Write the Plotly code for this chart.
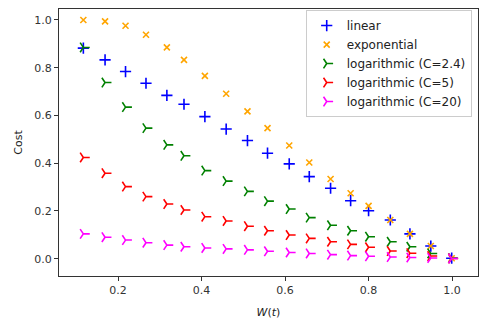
"""Cost curves for different weighting schemes."""

import plotly.graph_objects as go

# W(t) positions shared by all series
w_t = [0.117, 0.169, 0.218, 0.267, 0.317, 0.358, 0.408, 0.459, 0.510, 0.558,
       0.610, 0.658, 0.709, 0.757, 0.800, 0.852, 0.899, 0.949, 0.999]

cost_linear = [0.882, 0.833, 0.784, 0.735, 0.684, 0.647, 0.595, 0.543, 0.495, 0.442,
               0.397, 0.344, 0.295, 0.243, 0.201, 0.162, 0.104, 0.053, 0.002]
cost_exponential = [1.0, 0.994, 0.976, 0.938, 0.885, 0.833, 0.766, 0.691, 0.617, 0.547,
                    0.474, 0.403, 0.334, 0.274, 0.221, 0.162, 0.104, 0.053, 0.002]
cost_log_2_4 = [0.885, 0.738, 0.635, 0.547, 0.477, 0.431, 0.369, 0.325, 0.282, 0.241,
                0.208, 0.172, 0.140, 0.117, 0.092, 0.071, 0.050, 0.022, 0.002]
cost_log_5 = [0.424, 0.358, 0.302, 0.260, 0.229, 0.204, 0.176, 0.158, 0.136, 0.117,
              0.099, 0.085, 0.071, 0.060, 0.048, 0.032, 0.023, 0.011, 0.001]
cost_log_20 = [0.104, 0.090, 0.078, 0.067, 0.057, 0.050, 0.045, 0.041, 0.037, 0.031,
               0.026, 0.022, 0.017, 0.013, 0.010, 0.007, 0.005, 0.003, 0.001]

x_ticks = [0.2, 0.4, 0.6, 0.8, 1.0]
y_ticks = [0.0, 0.2, 0.4, 0.6, 0.8, 1.0]

SERIES = [
    ("linear", cost_linear, "blue", "cross-thin", 8),
    ("exponential", cost_exponential, "orange", "x-thin", 6),
    ("logarithmic (C=2.4)", cost_log_2_4, "green", "y-right", 8),
    ("logarithmic (C=5)", cost_log_5, "red", "y-right", 8),
    ("logarithmic (C=20)", cost_log_20, "magenta", "y-right", 8),
]

fig = go.Figure()
for name, values, color, symbol, size in SERIES:
    fig.add_trace(
        go.Scatter(
            x=w_t,
            y=values,
            mode="markers",
            name=name,
            marker={"symbol": symbol, "size": size, "color": color,
                    "line": {"color": color, "width": 1.6}},
        )
    )

axis_style = dict(
    showline=True,
    linecolor="#333333",
    linewidth=1,
    mirror=True,
    ticks="outside",
    ticklen=4,
    tickcolor="#333333",
    showgrid=False,
    zeroline=False,
    tickfont={"size": 11, "color": "#333333"},
)

# page body keeps its default 8px margin, so the figure is a bit smaller
fig.update_layout(
    width=487,
    height=319,
    margin={"l": 51, "r": 17, "t": 1, "b": 51},
    paper_bgcolor="white",
    plot_bgcolor="white",
    font={"family": "DejaVu Sans", "size": 11, "color": "#222222"},
    showlegend=True,
    legend={
        "x": 0.985,
        "y": 0.996,
        "xanchor": "right",
        "yanchor": "top",
        "bgcolor": "rgba(255,255,255,0.8)",
        "bordercolor": "#cccccc",
        "borderwidth": 1,
        "font": {"size": 12},
        "tracegroupgap": 0,
    },
)
fig.update_xaxes(
    range=[0.0587, 1.062],
    tickvals=x_ticks,
    ticktext=[f"{v:.1f}" for v in x_ticks],
    title={"text": "<i>W</i>(<i>t</i>)", "standoff": 12, "font": {"size": 11}},
    **axis_style,
)
fig.update_yaxes(
    range=[-0.0725, 1.046],
    tickvals=y_ticks,
    ticktext=[f"{v:.1f}" for v in y_ticks],
    title={"text": "Cost", "standoff": 9, "font": {"size": 11}},
    **axis_style,
)

fig.write_html("out.html")
